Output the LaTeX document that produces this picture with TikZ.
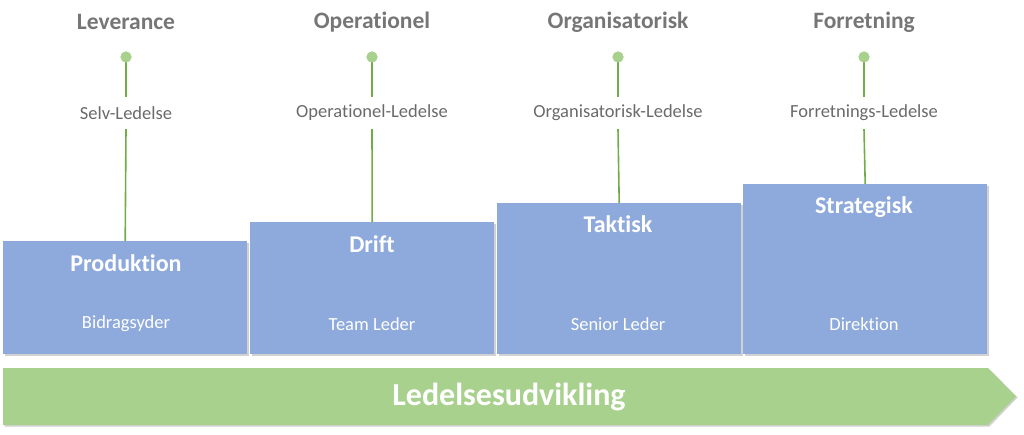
\documentclass[tikz,border=0pt]{standalone}
\usepackage{fontspec}
\setmainfont{Carlito}[Ligatures=NoCommon]
\usetikzlibrary{shadows}
\definecolor{boxblue}{HTML}{8EA9DB}
\definecolor{lightgreen}{HTML}{A9D18E}
\definecolor{darkgreen}{HTML}{70AD47}
\definecolor{titlegray}{HTML}{767676}
\begin{document}
\begin{tikzpicture}[x=1pt,y=-1pt,
  toptitle/.style={font=\fontsize{23.5}{26}\selectfont\bfseries, text=titlegray, inner sep=0pt},
  dot/.style={circle, fill=lightgreen, minimum size=11pt, inner sep=0pt},
  lbl/.style={font=\fontsize{18.5}{21}\selectfont, text=titlegray!90!black, inner sep=0pt, minimum height=32pt},
  stepbox/.style={rectangle, fill=boxblue, anchor=north west, minimum width=244pt, inner sep=0pt,
     drop shadow={shadow xshift=1.5pt, shadow yshift=-1.5pt, opacity=0.3, fill=black!60}},
  boxtitle/.style={font=\fontsize{24}{27}\selectfont\bfseries, text=white, inner sep=0pt},
  boxsub/.style={font=\fontsize{18.5}{21}\selectfont, text=white, inner sep=0pt},
  conn/.style={draw=darkgreen, line width=1.6pt}
]
\useasboundingbox (0,0) rectangle (1024,435);

% boxes
\node[stepbox, minimum height=113pt] (b1) at (3,241) {};
\node[stepbox, minimum height=132pt] (b2) at (250,222) {};
\node[stepbox, minimum height=151pt] (b3) at (497,203) {};
\node[stepbox, minimum height=170pt] (b4) at (743,184) {};

% titles above
\node[toptitle] (t1) at (126,22) {Leverance};
\node[toptitle] (t2) at (372,22) {Operationel};
\node[toptitle] (t3) at (618,22) {Organisatorisk};
\node[toptitle] (t4) at (864,22) {Forretning};

% labels
\node[lbl] (l1) at (126,113) {Selv-Ledelse};
\node[lbl] (l2) at (372,113) {Operationel-Ledelse};
\node[lbl] (l3) at (618,113) {Organisatorisk-Ledelse};
\node[lbl] (l4) at (864,113) {Forretnings-Ledelse};

% connectors
\foreach \i in {1,2,3,4}{
  \draw[conn] (l\i.south) -- (b\i.north);
}
\node[dot] (d1) at (126,57) {};
\node[dot] (d2) at (372,57) {};
\node[dot] (d3) at (618,57) {};
\node[dot] (d4) at (864,57) {};
\foreach \i in {1,2,3,4}{
  \draw[conn] (d\i.center) -- (l\i.north);
  \node[dot] at (d\i) {};
}

% box texts
\node[boxtitle] (p1) at (126,263) {Produktion};
\node[boxtitle] (p2) at (372,244) {Drift};
\node[boxtitle] (p3) at (618,224) {Taktisk};
\node[boxtitle] (p4) at (864,207) {Strategisk};
\node[boxsub] (s1) at (126,324) {Bidragsyder};
\node[boxsub] (s2) at (372,324) {Team Leder};
\node[boxsub] (s3) at (618,324) {Senior Leder};
\node[boxsub] (s4) at (864,324) {Direktion};

% bottom arrow
\fill[black!60, opacity=0.3] (4.5,369.5) -- (989.5,369.5) -- (1017.5,397.5) -- (989.5,426.5) -- (4.5,426.5) -- cycle;
\fill[lightgreen] (3,368) -- (988,368) -- (1016,396.5) -- (988,425) -- (3,425) -- cycle;
\node[font=\fontsize{32}{36}\selectfont\bfseries, text=white, inner sep=0pt] (arr) at (509,397) {Ledelsesudvikling};
\end{tikzpicture}
\end{document}
